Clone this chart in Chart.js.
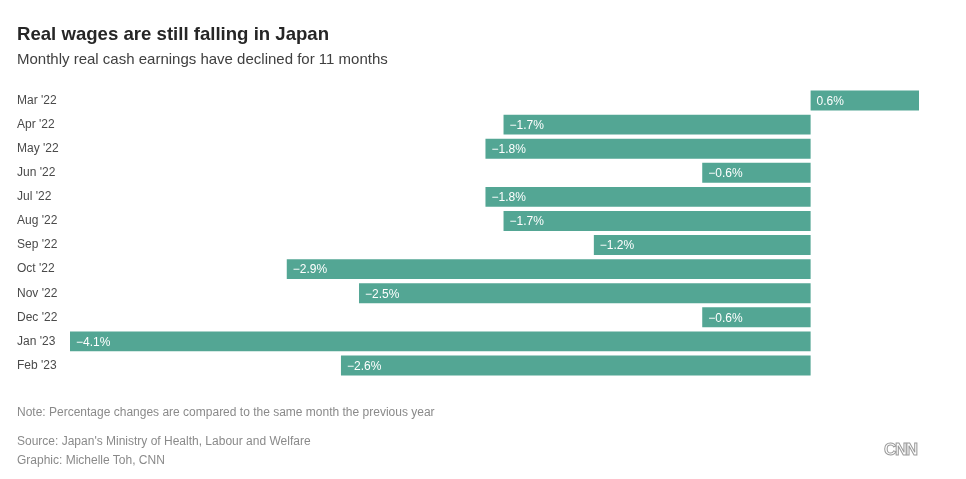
<!DOCTYPE html>
<html>
<head>
<meta charset="utf-8">
<script src="https://cdn.jsdelivr.net/npm/chart.js@4"></script>
<style>
  body { margin: 0; background: #fff; font-family: "Liberation Sans", Arial, sans-serif; }
  #wrap { position: relative; width: 966px; height: 479px; overflow: hidden; }
  #chart { position: absolute; left: 0; top: 0; }
  .t { position: absolute; left: 17px; white-space: nowrap; }
  #title { top: 23px; font-size: 18.6px; font-weight: bold; color: #262626; }
  #sub { top: 50px; font-size: 15px; color: #404040; }
  .foot { font-size: 12px; color: #8a8a8a; }
  #logo { position: absolute; left: 884px; top: 440px; font-size: 17px; font-weight: bold;
          color: transparent; -webkit-text-stroke: 1px #9a9a9a; letter-spacing: -1.4px; }
</style>
</head>
<body>
<div id="wrap">
  <canvas id="chart" width="966" height="479"></canvas>
  <div class="t" id="title">Real wages are still falling in Japan</div>
  <div class="t" id="sub">Monthly real cash earnings have declined for 11 months</div>
  <div class="t foot" style="top:405px">Note: Percentage changes are compared to the same month the previous year</div>
  <div class="t foot" style="top:434px">Source: Japan's Ministry of Health, Labour and Welfare</div>
  <div class="t foot" style="top:453px">Graphic: Michelle Toh, CNN</div>
  <div id="logo">CNN</div>
</div>
<script>
var months = ["Mar '22", "Apr '22", "May '22", "Jun '22", "Jul '22", "Aug '22",
              "Sep '22", "Oct '22", "Nov '22", "Dec '22", "Jan '23", "Feb '23"];
var wage_change = [0.6, -1.7, -1.8, -0.6, -1.8, -1.7, -1.2, -2.9, -2.5, -0.6, -4.1, -2.6];

var bar_color = "#53a694";

// label sits inside the bar, at its left end
var inside_labels = {
  id: "insideLabels",
  afterDatasetsDraw: function(chart) {
    var ctx = chart.ctx;
    var meta = chart.getDatasetMeta(0);
    ctx.save();
    ctx.fillStyle = "#ffffff";
    ctx.font = "12px 'Liberation Sans', Arial, sans-serif";
    ctx.textBaseline = "middle";
    ctx.textAlign = "left";
    meta.data.forEach(function(bar, i) {
      var v = wage_change[i];
      var txt = (v < 0 ? "\u2212" + Math.abs(v).toFixed(1) : v.toFixed(1)) + "%";
      var left = Math.min(bar.x, bar.base);
      ctx.fillText(txt, left + 6, bar.y + 1);
    });
    ctx.restore();
  }
};

var ctx = document.getElementById("chart").getContext("2d");
var chart = new Chart(ctx, {
  type: "bar",
  data: {
    labels: months,
    datasets: [{
      data: wage_change,
      backgroundColor: bar_color,
      borderWidth: 0,
      categoryPercentage: 1,
      barPercentage: 0.83
    }]
  },
  options: {
    indexAxis: "y",
    responsive: false,
    animation: false,
    layout: { padding: { left: 17, right: 47, top: 88.5, bottom: 101.5 } },
    plugins: { legend: { display: false }, tooltip: { enabled: false } },
    scales: {
      x: {
        min: -4.1,
        max: 0.6,
        display: false
      },
      y: {
        grid: { display: false },
        border: { display: false },
        ticks: {
          color: "#4a4a4a",
          font: { family: "'Liberation Sans', Arial, sans-serif", size: 12 },
          crossAlign: "far",
          padding: 4
        },
        afterFit: function(axis) { axis.width = 53; }
      }
    }
  },
  plugins: [inside_labels]
});
</script>
</body>
</html>
